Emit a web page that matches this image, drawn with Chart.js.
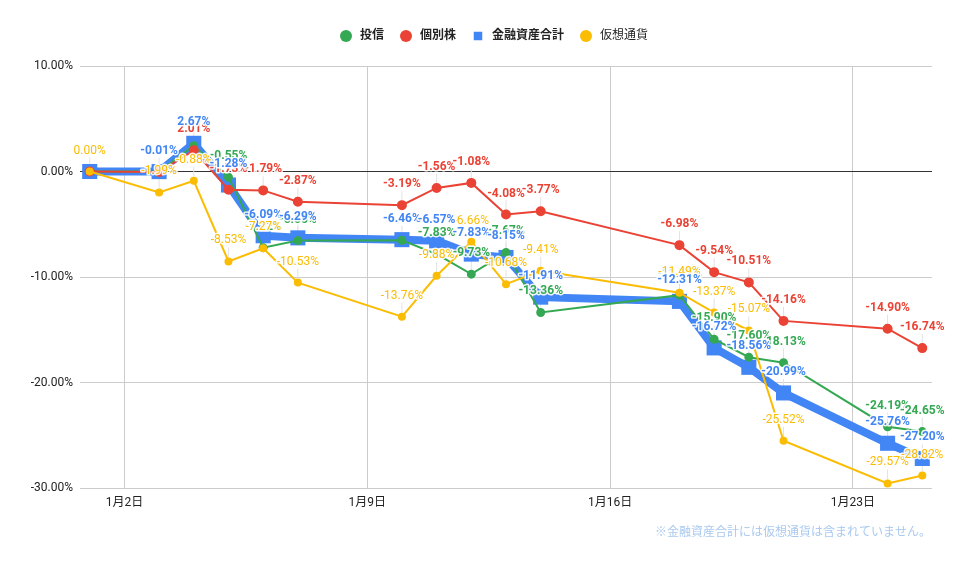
<!DOCTYPE html>
<html>
<head>
  <meta charset="utf-8">
  <title>資産推移</title>
  <script src="https://cdn.jsdelivr.net/npm/chart.js"></script>
  <style>
    body { margin: 0; background: #fff; }
    #wrap { position: relative; width: 960px; height: 569px; }
  </style>
  <script>
    // days of January
    const days = [1, 3, 4, 5, 6, 7, 10, 11, 12, 13, 14, 18, 19, 20, 21, 24, 25];
    const toushin = [0, 0, 2.45, -0.55, -7.22, -6.55, -6.52, -7.83, -9.73, -7.67, -13.36, -11.72, -15.90, -17.60, -18.13, -24.19, -24.65];
    const kobetsu = [0, -0.05, 2.01, -1.73, -1.79, -2.87, -3.19, -1.56, -1.08, -4.08, -3.77, -6.98, -9.54, -10.51, -14.16, -14.90, -16.74];
    const total = [0, -0.01, 2.67, -1.28, -6.09, -6.29, -6.46, -6.57, -7.83, -8.15, -11.91, -12.31, -16.72, -18.56, -20.99, -25.76, -27.20];
    const crypto = [0, -1.99, -0.88, -8.53, -7.27, -10.53, -13.76, -9.88, -6.66, -10.68, -9.41, -11.49, -13.37, -15.07, -25.52, -29.57, -28.82];
    const xTicks = [2, 9, 16, 23];
    const yTicks = [10, 0, -10, -20, -30];
    const note = '※金融資産合計には仮想通貨は含まれていません。';

    const FONT = "Roboto, 'Noto Sans CJK JP', sans-serif";

    function pts(arr) {
      return days.map((d, i) => ({ x: d, y: arr[i] }));
    }

    // value labels above points, with a small grey stem
    const labelPlugin = {
      id: 'pointLabels',
      beforeDatasetsDraw(chart) {
        const ctx = chart.ctx;
        ctx.save();
        ctx.strokeStyle = '#e2e2e2';
        ctx.lineWidth = 1;
        chart.data.datasets.forEach((ds, di) => {
          chart.getDatasetMeta(di).data.forEach((pt, i) => {
            if (ds.hideLabels.includes(i)) return;
            ctx.beginPath();
            ctx.moveTo(pt.x, pt.y - 4);
            ctx.lineTo(pt.x, pt.y - 14);
            ctx.stroke();
          });
        });
        ctx.restore();
      },
      afterDatasetsDraw(chart) {
        const ctx = chart.ctx;
        [0, 1, 3, 2].forEach(di => {
          const ds = chart.data.datasets[di];
          const meta = chart.getDatasetMeta(di);
          ctx.save();
          ctx.font = (ds.labelBold ? 'bold ' : '') + '12px ' + FONT;
          ctx.textAlign = 'center';
          ctx.textBaseline = 'middle';
          ctx.lineJoin = 'round';
          meta.data.forEach((pt, i) => {
            if (ds.hideLabels.includes(i)) return;
            const txt = ds.data[i].y.toFixed(2) + '%';
            ctx.strokeStyle = 'rgba(255,255,255,0.9)';
            ctx.lineWidth = 3;
            ctx.strokeText(txt, pt.x, pt.y - 21);
            ctx.fillStyle = ds.borderColor;
            ctx.fillText(txt, pt.x, pt.y - 21);
          });
          ctx.restore();
        });
      }
    };

    // legend on top + footnote
    const legendPlugin = {
      id: 'topLegend',
      afterDraw(chart) {
        const ctx = chart.ctx;
        ctx.save();
        ctx.textBaseline = 'middle';
        let x = 340;
        const y = 36;
        chart.data.datasets.forEach(ds => {
          ctx.fillStyle = ds.borderColor;
          if (ds.pointStyle === 'rect') {
            ctx.fillRect(x + 6 - 4.25, y - 4.25, 8.5, 8.5);
          } else {
            ctx.beginPath();
            ctx.arc(x + 6, y, 6, 0, Math.PI * 2);
            ctx.fill();
          }
          ctx.font = (ds.labelBold ? 'bold ' : '') + '12px ' + FONT;
          ctx.fillStyle = '#222';
          ctx.textAlign = 'left';
          ctx.fillText(ds.label, x + 20, y);
          x += 20 + ctx.measureText(ds.label).width + 16;
        });
        ctx.font = '12px ' + FONT;
        ctx.fillStyle = '#a9c9f0';
        ctx.textAlign = 'right';
        ctx.fillText(note, 931, 533);
        ctx.restore();
      }
    };

    window.onload = function() {
      const ctx = document.getElementById('myChart').getContext('2d');

      new Chart(ctx, {
        type: 'line',
        data: {
          datasets: [{
            label: '投信',
            data: pts(toushin),
            borderColor: '#34a853',
            backgroundColor: '#34a853',
            borderWidth: 2,
            pointRadius: 3.5,
            pointStyle: 'circle',
            order: 2,
            labelBold: true,
            hideLabels: [0, 1, 2, 6]
          }, {
            label: '個別株',
            data: pts(kobetsu),
            borderColor: '#ea4335',
            backgroundColor: '#ea4335',
            borderWidth: 2,
            pointRadius: 4,
            pointStyle: 'circle',
            order: 1,
            labelBold: true,
            hideLabels: [0, 1]
          }, {
            label: '金融資産合計',
            data: pts(total),
            borderColor: '#4285f4',
            backgroundColor: '#4285f4',
            borderWidth: 8,
            pointRadius: 5,
            pointStyle: 'rect',
            order: 3,
            labelBold: true,
            hideLabels: [0]
          }, {
            label: '仮想通貨',
            data: pts(crypto),
            borderColor: '#fbbc04',
            backgroundColor: '#fbbc04',
            borderWidth: 2,
            pointRadius: 3,
            pointStyle: 'circle',
            order: 0,
            labelBold: false,
            hideLabels: []
          }]
        },
        options: {
          responsive: true,
          maintainAspectRatio: false,
          animation: false,
          layout: { padding: { top: 66, right: 28, bottom: 51, left: 0 } },
          plugins: {
            legend: { display: false },
            tooltip: { enabled: false }
          },
          elements: {
            line: { tension: 0 },
            point: { borderWidth: 0 }
          },
          scales: {
            x: {
              type: 'linear',
              min: 0.72,
              max: 25.28,
              afterBuildTicks: s => { s.ticks = xTicks.map(v => ({ value: v })); },
              afterFit: s => { s.height = 30; },
              ticks: {
                callback: v => '1月' + v + '日',
                font: { family: FONT, size: 12 },
                color: '#222',
                padding: 8,
                maxRotation: 0,
                autoSkip: false
              },
              grid: { color: '#cccccc', drawTicks: false },
              border: { display: false }
            },
            y: {
              min: -30,
              max: 10,
              afterBuildTicks: s => { s.ticks = yTicks.map(v => ({ value: v })); },
              afterFit: s => { s.width = 80; },
              ticks: {
                callback: v => v.toFixed(2) + '%',
                font: { family: FONT, size: 12 },
                color: '#222',
                padding: 7
              },
              grid: {
                color: c => (c.tick && c.tick.value === 0) ? '#333333' : '#cccccc',
                drawTicks: false
              },
              border: { display: false }
            }
          }
        },
        plugins: [labelPlugin, legendPlugin]
      });
    };
  </script>
</head>
<body>
<div id="wrap"><canvas id="myChart"></canvas></div>
</body>
</html>
